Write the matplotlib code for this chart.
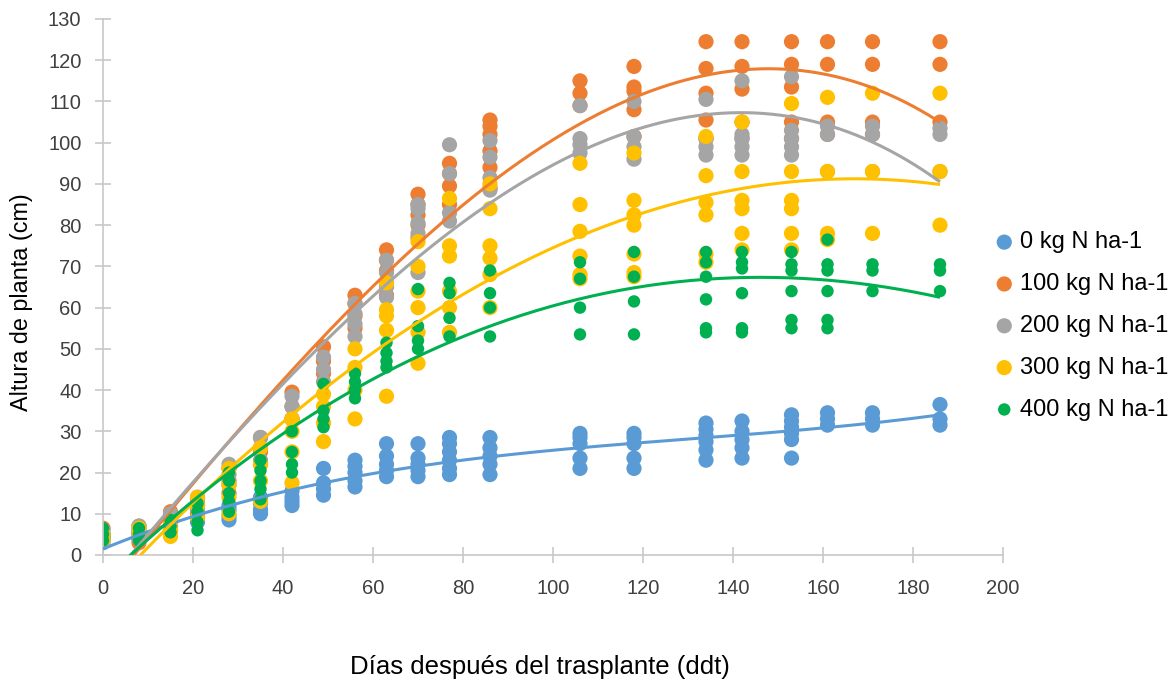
import numpy as np
import matplotlib
matplotlib.use("Agg")
import matplotlib.pyplot as plt

days = [0, 8, 15, 21, 28, 35, 42, 49, 56, 63, 70, 77, 86, 106, 118, 134, 142, 153, 161, 171, 186]

n0 = [[3, 4, 5], [4, 5, 6], [6, 7, 8], [8, 9, 10, 11], [8.5, 9.5, 11, 12], [10, 11, 12.5, 14],
      [12, 13, 14, 15.5], [14.5, 16, 17.5, 21], [16.5, 18, 20, 21.5, 23], [19, 20.5, 22, 24, 27],
      [19, 20.5, 22, 23.5, 27], [19.5, 21, 23, 25, 27, 28.5], [19.5, 22, 24, 26, 28.5],
      [21, 23.5, 27, 28.5, 29.5], [21, 23.5, 27, 28.5, 29.5], [23, 25.5, 27.5, 29, 30.5, 32],
      [23.5, 26, 28, 30, 32.5], [23.5, 28, 29.5, 31, 32.5, 34], [31.5, 33, 34.5],
      [31.5, 33, 34.5], [31.5, 33, 36.5]]

n100 = [[4, 5, 6.5], [3, 5, 7], [6, 8, 10.5], [10, 12, 13.5], [15, 18, 21], [22, 25, 28.5],
        [33, 36, 39.5], [44, 47, 50.5], [55, 58, 61, 63], [63, 66, 69, 71.5, 74],
        [77, 80, 82.5, 85, 87.5], [85, 89.5, 92.5, 95], [89, 94, 98, 102, 104, 105.5],
        [109, 112, 115], [101.5, 108, 112.5, 113.5, 118.5], [101, 105.5, 112, 118, 124.5],
        [101, 105, 113, 118.5, 124.5], [101, 105, 113.5, 119, 124.5], [102, 105, 119, 124.5],
        [102, 105, 119, 124.5], [105, 119, 124.5]]

n200 = [[4, 5, 6], [4, 5.5, 7], [7, 8.5, 10], [11, 12.5, 14], [17, 19.5, 22], [23, 26, 28.5],
        [33, 36, 38.5], [42, 45, 48], [53, 56, 58.5, 61], [62.5, 65, 68.5, 71.5],
        [68.5, 78, 80.5, 84, 85], [81, 83, 92.5, 99.5], [88.5, 91.5, 96.5, 100.5],
        [97.5, 99.5, 101, 109], [96, 99, 101.5, 110], [97, 99, 101, 110.5],
        [97, 99, 101, 102, 115], [97, 99, 101, 103, 116], [93, 102, 104], [93, 102, 104],
        [93, 102, 103.5]]

n300 = [[3.5, 5], [5, 6.5], [4.5, 6, 8], [9, 12, 14], [10, 14, 17, 21], [13, 18, 22, 26],
        [17.5, 25, 30, 33], [27.5, 32, 36, 39], [33, 40, 45.5, 50], [38.5, 54.5, 58, 59.5, 66],
        [46.5, 54, 60, 64, 70, 76], [54, 60, 64, 72.5, 75, 86.5], [60, 68, 72, 75, 84, 90],
        [67, 68, 72.5, 78.5, 85, 95], [67.5, 68.5, 73, 80, 82.5, 86, 97.5],
        [71, 73, 82.5, 85.5, 92, 101.5], [74, 78, 84, 86, 93, 105],
        [74, 78, 84, 86, 93, 109.5], [76.5, 78, 93, 111], [78, 93, 112], [80, 93, 112]]

n400 = [[3.5, 5, 6.5], [3.5, 5, 6.5], [5.5, 7, 8.5], [6, 8, 10.5, 12.5], [10.5, 13, 15, 18, 20],
        [13.5, 16, 18, 20.5, 23], [20, 22, 25, 30], [31, 33, 35, 41.5], [38, 40, 42, 44],
        [45.5, 47, 49, 51.5], [50, 52, 55.5, 64.5], [53, 57.5, 63.5, 66], [53, 60, 63.5, 69],
        [53.5, 60, 67, 71], [53.5, 61.5, 67.5, 73.5], [54, 55, 62, 67.5, 71, 73.5],
        [54, 55, 63.5, 69.5, 71, 73.5], [55, 57, 64, 69, 70.5, 73.5],
        [55, 57, 64, 69, 70.5, 76.5], [64, 69, 70.5], [64, 69, 70.5]]

labels = ["0 kg N ha-1", "100 kg N ha-1", "200 kg N ha-1", "300 kg N ha-1", "400 kg N ha-1"]
series = [n0, n100, n200, n300, n400]
colors = ["#5B9BD5", "#ED7D31", "#A5A5A5", "#FFC000", "#00B050"]
sizes = [120, 120, 120, 120, 80]

plt.rcParams['font.family'] = ['Liberation Sans', 'DejaVu Sans']

fig = plt.figure(figsize=(11.74, 6.83), dpi=100)
ax = fig.add_axes([103/1174, 1-555/683, 900/1174, 536/683])

handles = []
fits = []
for vals, c, s, lab in zip(series, colors, sizes, labels):
    xs = np.concatenate([[d]*len(v) for d, v in zip(days, vals)])
    ys = np.concatenate([v for v in vals])
    h = ax.scatter(xs, ys, s=s, color=c, edgecolors='none', label=lab, zorder=2)
    handles.append(h)
    fits.append((xs, ys, c))

xx = np.linspace(0, max(days), 300)
for xs, ys, c in fits:
    p = np.polyfit(xs, ys, 3)
    ax.plot(xx, np.polyval(p, xx), color=c, lw=2.2, zorder=3, solid_capstyle='butt')

ax.set_xlim(0, 200)
ax.set_ylim(0, 130)
ax.set_xticks(np.arange(0, 201, 20))
ax.set_yticks(np.arange(0, 131, 10))
for sp in ['top', 'right']:
    ax.spines[sp].set_visible(False)
for sp in ['left', 'bottom']:
    ax.spines[sp].set_color('#C8C8C8')
    ax.spines[sp].set_linewidth(1.2)
ax.tick_params(axis='both', direction='inout', length=11, width=1.2, color='#C8C8C8',
               labelsize=14.5, labelcolor='#404040')
ax.tick_params(axis='x', pad=12)
ax.tick_params(axis='y', pad=10)

fig.text(540/1174, 1-667/683, "Días después del trasplante (ddt)", ha='center', va='center',
         fontsize=18.5, color='#000000')
fig.text(22/1174, 1-302/683, "Altura de planta (cm)", ha='center', va='center',
         rotation=90, fontsize=16.8, color='#000000')

fig.legend(handles=handles, labels=labels, loc='center left',
           bbox_to_anchor=(983/1174, 1-326/683), frameon=False, fontsize=17,
           handletextpad=0.18, labelspacing=0.84, handlelength=1.0, borderaxespad=0,
           scatterpoints=1)

fig.savefig("out.png", dpi=100)
